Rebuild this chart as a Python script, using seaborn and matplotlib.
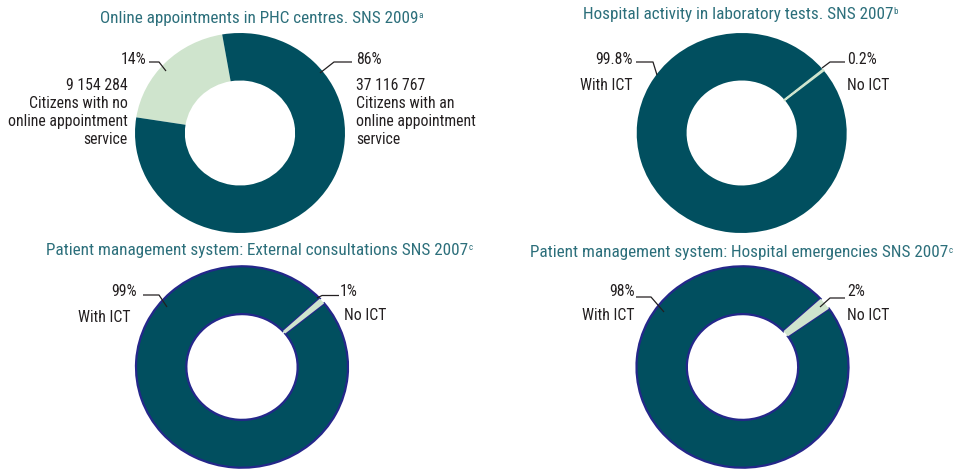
import matplotlib
matplotlib.use("Agg")
import matplotlib.pyplot as plt
import seaborn as sns

sns.set_theme(style="white")
plt.rcParams["font.family"] = ["Roboto Condensed", "Liberation Sans Narrow", "Roboto", "DejaVu Sans"]

# ---- data -------------------------------------------------------------
titles = [
    "Online appointments in PHC centres. SNS 2009",
    "Hospital activity in laboratory tests. SNS 2007",
    "Patient management system: External consultations SNS 2007",
    "Patient management system: Hospital emergencies SNS 2007",
]
title_notes = ["a", "b", "c", "c"]

# chart 1: citizens (no online service, with online service)
citizens_values = [9154284, 37116767]
citizens_pct_labels = ["14%", "86%"]
citizens_text = ["9 154 284\nCitizens with no\nonline appointment\nservice",
                 "37 116 767\nCitizens with an\nonline appointment\nservice"]

# charts 2-4: share of activity (No ICT, With ICT), in %
lab_values = [0.2, 99.8]
consult_values = [1, 99]
emerg_values = [2, 98]
ict_labels = ["No ICT", "With ICT"]

# ---- styling ----------------------------------------------------------
DARK = "#014f5f"
LIGHT = "#cfe4cd"
NAVY = "#24278a"
TITLE_C = "#2c6f7b"
TEXT_C = "#231f20"

W, H = 957, 469
fig = plt.figure(figsize=(W / 100, H / 100), dpi=100)
fig.patch.set_facecolor("white")

# overlay axes in pixel coordinates for titles, labels and leader lines
ov = fig.add_axes([0, 0, 1, 1], zorder=5)
ov.set_xlim(0, W)
ov.set_ylim(H, 0)
ov.axis("off")
ov.patch.set_alpha(0)


def donut(cx, cy, rx, ry, values, start, navy_edge=False, thin_edge=False):
    ax = fig.add_axes([(cx - rx) / W, 1 - (cy + ry) / H, 2 * rx / W, 2 * ry / H], zorder=1)
    wedges, _ = ax.pie(values, colors=[LIGHT, DARK], startangle=start,
                       counterclock=False, radius=1.0,
                       wedgeprops=dict(width=0.475, linewidth=0))
    ax.set_aspect("auto")
    ax.set_xlim(-1.0, 1.0)
    ax.set_ylim(-1.0, 1.0)
    ax.axis("off")
    if thin_edge:
        wedges[0].set_edgecolor(LIGHT)
        wedges[0].set_linewidth(1.2)
        wedges[0].set_zorder(3)
    if navy_edge:
        wedges[1].set_edgecolor(NAVY)
        wedges[1].set_linewidth(1.6)
        wedges[0].set_zorder(3)
    return ax


TFS = 12.3
FS = 11.3


def title(x, y, text, note):
    t = ov.text(x, y, text, ha="center", va="center", fontsize=TFS, color=TITLE_C)
    fig.canvas.draw()
    bb = t.get_window_extent()
    ov.text(bb.x1 + 0.5, H - bb.y1 + 1, note, fontsize=6.5, color=TITLE_C,
            ha="left", va="top")


def leader(pts):
    xs, ys = zip(*pts)
    ov.plot(xs, ys, color=TEXT_C, lw=0.9, solid_capstyle="butt")


def label(x, y, text, ha, va="center"):
    ov.text(x, y, text, ha=ha, va=va, fontsize=FS, color=TEXT_C, linespacing=1.26)


# chart 1
donut(240, 133, 105, 100, citizens_values, start=171)
title(259, 18, titles[0], title_notes[0])
label(146, 59, citizens_pct_labels[0], "right")
label(356, 59, citizens_pct_labels[1], "left")
label(128, 78, citizens_text[0], "right", va="top")
label(356, 78, citizens_text[1], "left", va="top")
leader([(149, 62), (159, 62), (166, 71)])
leader([(320, 73), (334, 62), (352, 62)])

# chart 2
pct2 = lab_values[0] / sum(lab_values) * 360
donut(741.7, 133, 105, 100, lab_values, start=39 + pct2 / 2, thin_edge=True)
title(738, 14, titles[1], title_notes[1])
label(633, 59, f"{lab_values[1]:.1f}%", "right")
label(632, 85, ict_labels[1], "right")
label(847, 59, f"{lab_values[0]:.1f}%", "left")
label(847, 85, ict_labels[0], "left")
leader([(636, 62), (653, 62), (657, 75)])
leader([(822, 68), (830, 62), (845, 62)])

# chart 3
pct3 = consult_values[0] / sum(consult_values) * 360
donut(242, 367, 106, 100.7, consult_values, start=41 + pct3 / 2, navy_edge=True)
title(257, 250, titles[2], title_notes[2])
label(137, 292, f"{consult_values[1]}%", "right")
label(131, 317, ict_labels[1], "right")
label(340, 292, f"{consult_values[0]}%", "left")
label(344, 316, ict_labels[0], "left")
leader([(143, 295), (159, 295), (167, 307)])
leader([(317, 298), (322, 295.5), (339, 295.5)])

# chart 4
pct4 = emerg_values[0] / sum(emerg_values) * 360
donut(742.5, 367, 106, 100.7, emerg_values, start=39 + pct4 / 2, navy_edge=True)
title(739, 253, titles[3], title_notes[3])
label(635, 292, f"{emerg_values[1]}%", "right")
label(635, 316, ict_labels[1], "right")
label(847, 292, f"{emerg_values[0]}%", "left")
label(847, 316, ict_labels[0], "left")
leader([(636, 297), (651, 297), (664, 312)])
leader([(820, 307), (830, 298), (845, 298)])

fig.savefig("out.png", dpi=100, facecolor="white")
